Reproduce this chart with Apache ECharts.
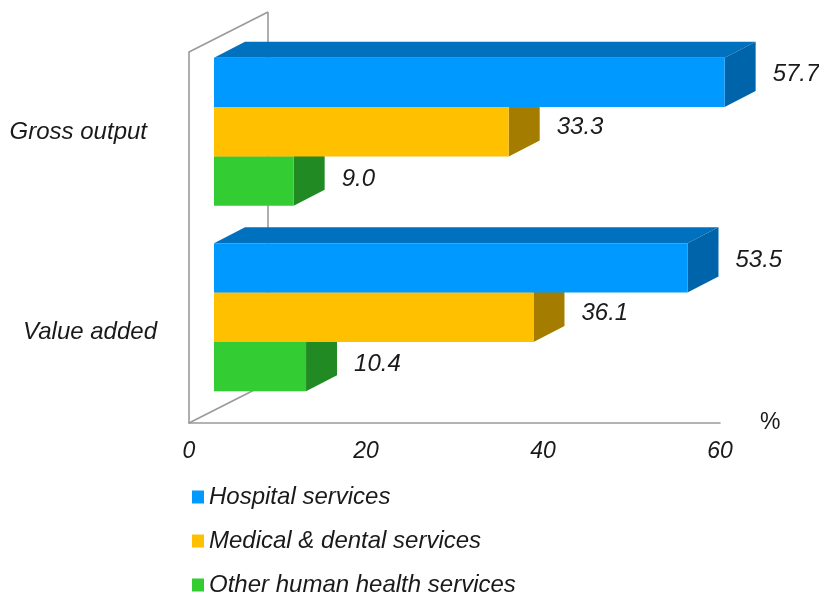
<!DOCTYPE html>
<html>
<head>
<meta charset="utf-8">
<script src="https://cdn.jsdelivr.net/npm/echarts@6/dist/echarts.min.js"></script>
<style>html,body{margin:0;padding:0;background:#fff}#c{width:819px;height:597px}</style>
</head>
<body>
<div id="c"></div>
<script>
// ---- data ----
var categories = ['Gross output', 'Value added'];
var hospital = [57.7, 53.5];
var medical = [33.3, 36.1];
var other = [9.0, 10.4];
var seriesNames = ['Hospital services', 'Medical & dental services', 'Other human health services'];
var xTicks = [0, 20, 40, 60];

var FONT = 'Liberation Sans, Arial, sans-serif';
var palette = [
  {front: '#0099ff', top: '#0071bf', side: '#0064aa', labelDy: -8},
  {front: '#ffc000', top: '#d4a000', side: '#a37c00', labelDy: -4},
  {front: '#33cc33', top: '#2aa82a', side: '#228a22', labelDy: -2}
];
var DX = 31, DY = -16, SHIFT_X = 25, SHIFT_Y = -13;

function makeRender(idx) {
  return function (params, api) {
    var v = api.value(0);
    var cat = api.value(1);
    var p0 = api.coord([0, cat]);
    var p1 = api.coord([v, cat]);
    var band = api.size([0, 1])[1];
    var h = band * 0.266;
    var cy = p0[1] + SHIFT_Y;
    var top = cy - 1.5 * h + idx * h;
    var x0 = p0[0] + SHIFT_X, x1 = p1[0] + SHIFT_X;
    var c = palette[idx];
    return {
      type: 'group',
      children: [
        {type: 'polygon', shape: {points: [[x0, top], [x1, top], [x1 + DX, top + DY], [x0 + DX, top + DY]]}, style: {fill: c.top}},
        {type: 'polygon', shape: {points: [[x1, top], [x1 + DX, top + DY], [x1 + DX, top + h + DY], [x1, top + h]]}, style: {fill: c.side}},
        {type: 'rect', shape: {x: x0, y: top, width: x1 - x0, height: h}, style: {fill: c.front}},
        {type: 'text', x: x1 + 48, y: top + h / 2 + c.labelDy,
          style: {text: v.toFixed(1), fill: '#1a1a1a', font: 'italic 24px ' + FONT, align: 'left', verticalAlign: 'middle'}}
      ]
    };
  };
}

function wallRender(params, api) {
  var cs = params.coordSys;
  var x = cs.x, y = cs.y, b = cs.y + cs.height;
  var wx = 79, wy = -40;
  var st = {stroke: '#9a9a9a', lineWidth: 1.6, fill: null};
  return {
    type: 'group',
    children: [
      {type: 'line', shape: {x1: x, y1: y, x2: x + wx, y2: y + wy}, style: st},
      {type: 'line', shape: {x1: x + wx, y1: y + wy, x2: x + wx, y2: b + wy}, style: st},
      {type: 'line', shape: {x1: x, y1: b, x2: x + wx, y2: b + wy}, style: st}
    ]
  };
}

function pairs(arr) { return arr.map(function (v, i) { return [v, i]; }); }
var allValues = [hospital, medical, other];

var series = [{
  type: 'custom', name: 'walls', renderItem: wallRender, data: [[0, 0]], z: 1, silent: true,
  encode: {x: 0, y: 1}
}];
for (var i = 0; i < 3; i++) {
  series.push({
    type: 'custom',
    name: seriesNames[i],
    renderItem: makeRender(i),
    data: pairs(allValues[i]),
    encode: {x: 0, y: 1},
    itemStyle: {color: palette[i].front},
    z: 10 - i
  });
}

var chart = echarts.init(document.getElementById('c'), null, {renderer: 'canvas'});
chart.setOption({
  animation: false,
  backgroundColor: '#ffffff',
  grid: {left: 189, right: 99, top: 52, bottom: 174, containLabel: false},
  xAxis: {
    type: 'value', min: xTicks[0], max: xTicks[xTicks.length - 1], interval: 20,
    name: '%', nameLocation: 'end', nameGap: 40,
    nameTextStyle: {fontFamily: FONT, fontSize: 23, color: '#1a1a1a', verticalAlign: 'middle', padding: [2, 0, 0, 0]},
    axisLine: {show: true, lineStyle: {color: '#9a9a9a', width: 1.6}},
    axisTick: {show: false},
    splitLine: {show: false},
    axisLabel: {margin: 18, fontFamily: FONT, fontStyle: 'italic', fontSize: 23, lineHeight: 22, color: '#1a1a1a'}
  },
  yAxis: {
    type: 'category', data: categories, inverse: true,
    axisLine: {show: true, lineStyle: {color: '#9a9a9a', width: 1.6}},
    axisTick: {show: false},
    splitLine: {show: false},
    axisLabel: {
      margin: 32, fontFamily: FONT, fontStyle: 'italic', fontSize: 24, color: '#1a1a1a',
      formatter: function (val) { return val === categories[0] ? '{g|' + val + '}' : '{v|' + val + '}'; },
      rich: {
        g: {fontFamily: FONT, fontStyle: 'italic', fontSize: 24, lineHeight: 24, color: '#1a1a1a', padding: [0, 10, 24, 0]},
        v: {fontFamily: FONT, fontStyle: 'italic', fontSize: 24, lineHeight: 24, color: '#1a1a1a', padding: [4, 0, 0, 0]}
      }
    }
  },
  legend: {
    data: seriesNames, orient: 'vertical', left: 192, top: 485, padding: 0,
    height: 112,
    itemWidth: 12, itemHeight: 13, itemGap: 20, icon: 'rect',
    textStyle: {fontFamily: FONT, fontStyle: 'italic', fontSize: 24, lineHeight: 24, color: '#1a1a1a'}
  },
  series: series
});
</script>
</body>
</html>
